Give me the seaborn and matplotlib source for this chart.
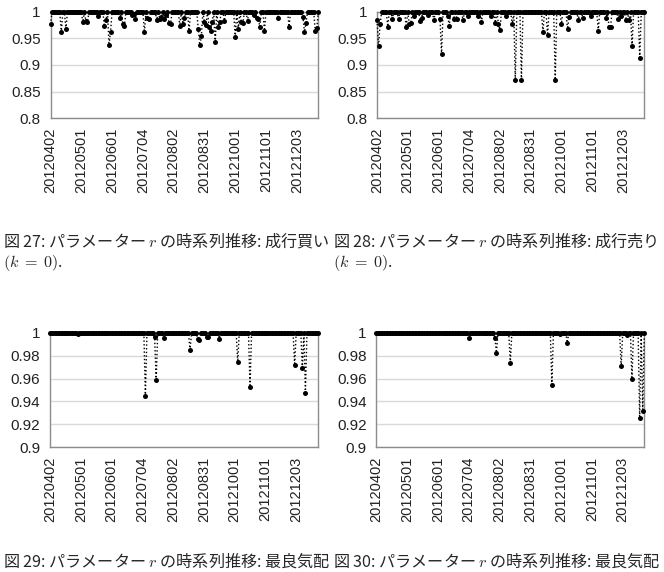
import numpy as np
import pandas as pd
import matplotlib
matplotlib.use('Agg')
import matplotlib.pyplot as plt
import seaborn as sns

# trading days shown on the x axis (category axis, one point per day)
n_days = 175
tick_pos = [0, 20, 40, 60, 80, 100, 120, 140, 160]
tick_labels = ['20120402', '20120501', '20120601', '20120704', '20120802',
               '20120831', '20121001', '20121101', '20121203']

# r stays at 1 except on these days (index of day)
buy_idx = [0, 7, 10, 21, 23, 24, 31, 35, 36, 38, 39, 45, 47, 48, 53, 54, 55, 61, 63, 64,
           69, 71, 72, 74, 75, 77, 78, 84, 86, 87, 90, 96, 97, 98, 100, 101, 103, 104, 105, 107,
           109, 110, 113, 120, 122, 124, 125, 128, 132, 134, 135, 136, 139, 148, 155, 164, 165, 166, 172, 173]
buy_val = [0.976, 0.961, 0.9675, 0.98, 0.9825, 0.98, 0.9925, 0.9725, 0.984, 0.9375,
           0.9625, 0.9875, 0.977, 0.974, 0.994, 0.996, 0.9855, 0.961, 0.989, 0.986,
           0.984, 0.9855, 0.99, 0.9855, 0.994, 0.979, 0.976, 0.973, 0.977, 0.989,
           0.964, 0.967, 0.9375, 0.954, 0.981, 0.975, 0.972, 0.964, 0.98, 0.9425,
           0.972, 0.981, 0.983, 0.952, 0.967, 0.98, 0.978, 0.983, 0.994, 0.989,
           0.9855, 0.972, 0.964, 0.9875, 0.972, 0.99, 0.961, 0.979, 0.964, 0.969]

sell_idx = [0, 1, 2, 7, 10, 14, 19, 21, 22, 24, 28, 29, 33, 37, 41, 42, 46, 47, 50, 52,
            56, 59, 66, 68, 74, 77, 79, 80, 84, 88, 90, 94, 108, 111, 116, 120, 124, 125, 131, 134,
            139, 144, 149, 151, 152, 157, 159, 162, 164, 166, 171]
sell_val = [0.984, 0.936, 0.976, 0.972, 0.986, 0.986, 0.971, 0.977, 0.979, 0.992,
            0.983, 0.989, 0.994, 0.984, 0.986, 0.92, 0.992, 0.974, 0.986, 0.986,
            0.984, 0.9925, 0.9925, 0.981, 0.992, 0.979, 0.977, 0.966, 0.992, 0.976,
            0.872, 0.872, 0.9625, 0.956, 0.872, 0.977, 0.967, 0.99, 0.984, 0.9875,
            0.992, 0.964, 0.9875, 0.972, 0.971, 0.986, 0.992, 0.984, 0.984, 0.9356, 0.914]

best1_idx = [18, 62, 68, 69, 74, 91, 96, 97, 102, 103, 110, 122, 130, 159, 164, 166]
best1_val = [0.9985, 0.9444, 0.996, 0.9585, 0.9956, 0.9848, 0.9947, 0.9933, 0.9965, 0.996,
             0.9947, 0.9746, 0.9526, 0.9716, 0.9693, 0.9474]

best2_idx = [60, 77, 78, 87, 114, 119, 124, 159, 163, 166, 171, 173]
best2_val = [0.995, 0.9956, 0.9825, 0.9737, 0.9547, 0.9985, 0.9912, 0.9708, 0.998, 0.9596,
             0.9254, 0.9313]

yticks_top = [0.8, 0.85, 0.9, 0.95, 1]
yticks_bottom = [0.9, 0.92, 0.94, 0.96, 0.98, 1]

captions = [
    ('図 27: パラメーター $r$ の時系列推移: 成行買い', 0.0045, 0.5787),
    ('$(k\\;=\\;0)$.', 0.0045, 0.541),
    ('図 28: パラメーター $r$ の時系列推移: 成行売り', 0.5015, 0.5787),
    ('$(k\\;=\\;0)$.', 0.5015, 0.541),
    ('図 29: パラメーター $r$ の時系列推移: 最良気配', 0.0045, 0.019),
    ('図 30: パラメーター $r$ の時系列推移: 最良気配', 0.5015, 0.019),
]

sns.set_style('white')
plt.rcParams['font.family'] = ['Liberation Sans', 'DejaVu Sans']
plt.rcParams['mathtext.fontset'] = 'cm'


def make_series(idx, val):
    r = np.ones(n_days)
    r[idx] = val
    return pd.DataFrame({'day': np.arange(n_days), 'r': r})


def draw_panel(ax, df, yticks):
    sns.lineplot(data=df, x='day', y='r', ax=ax, color='black', linestyle=':',
                 linewidth=1.0, marker='o', markersize=3.6, markeredgewidth=0,
                 clip_on=False, zorder=3)
    ax.set_xlim(0, n_days - 1)
    ax.set_ylim(yticks[0], yticks[-1])
    ax.set_yticks(yticks)
    ax.set_yticklabels(['{:g}'.format(v) for v in yticks])
    ax.set_xticks(tick_pos)
    ax.set_xticklabels(tick_labels, rotation=90)
    ax.set_xlabel('')
    ax.set_ylabel('')
    ax.grid(axis='y', color='#d9d9d9', linewidth=1)
    ax.set_axisbelow(True)
    for s in ax.spines.values():
        s.set_color('#8c8c8c')
        s.set_linewidth(1)
    ax.tick_params(axis='x', direction='in', length=4, width=1, color='#8c8c8c',
                   pad=7, labelsize=10.5, labelcolor='#222222')
    ax.tick_params(axis='y', length=0, pad=7, labelsize=11, labelcolor='#222222')


fig = plt.figure(figsize=(6.64, 5.72), dpi=100)
ax1 = fig.add_axes([0.0761, 0.7932, 0.4033, 0.1864])
ax2 = fig.add_axes([0.5678, 0.7932, 0.4026, 0.1864])
ax3 = fig.add_axes([0.0753, 0.2180, 0.4032, 0.2003])
ax4 = fig.add_axes([0.5667, 0.2180, 0.4036, 0.2003])

draw_panel(ax1, make_series(buy_idx, buy_val), yticks_top)
draw_panel(ax2, make_series(sell_idx, sell_val), yticks_top)
draw_panel(ax3, make_series(best1_idx, best1_val), yticks_bottom)
draw_panel(ax4, make_series(best2_idx, best2_val), yticks_bottom)

for txt, x, y in captions:
    fig.text(x, y, txt, family='Noto Sans CJK JP', fontsize=11.6, va='center', ha='left')

fig.savefig('out.png', dpi=100, facecolor='white')
